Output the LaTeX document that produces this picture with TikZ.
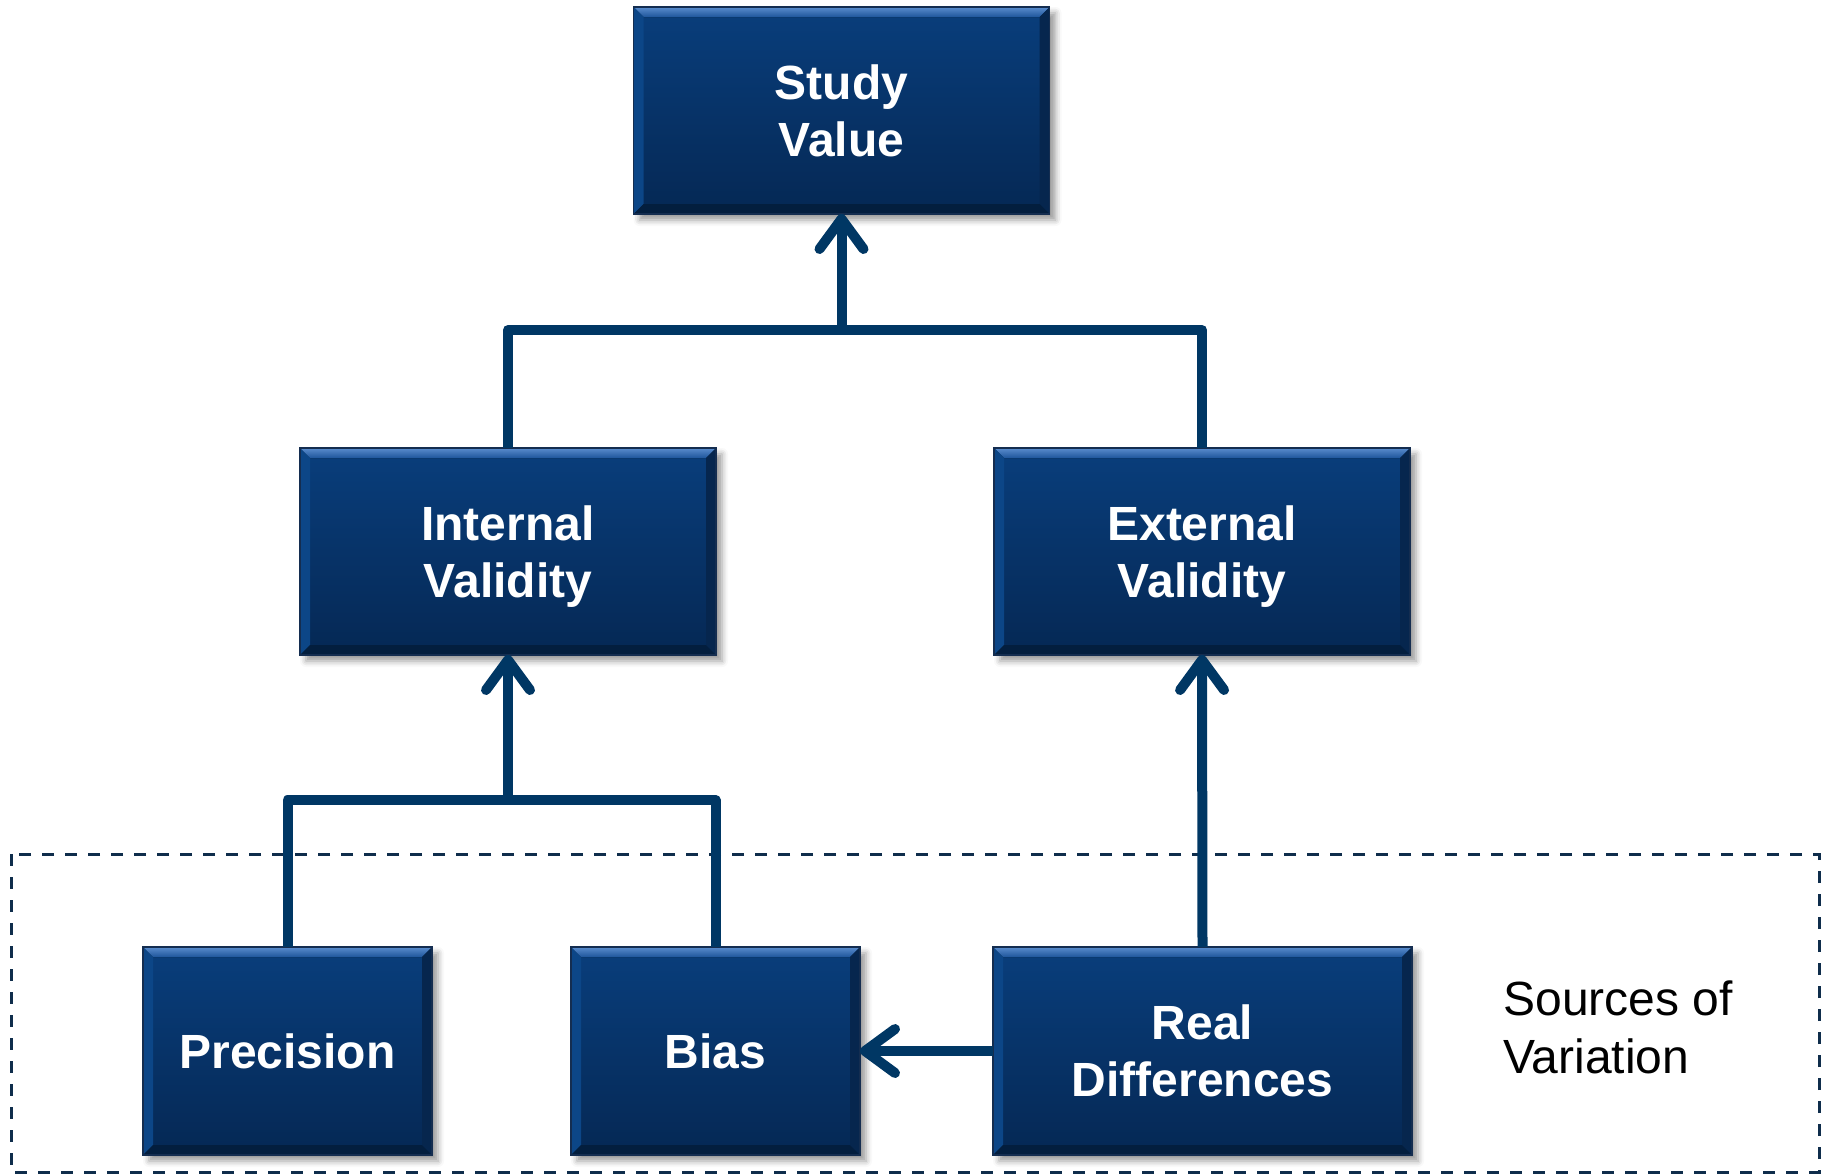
\documentclass[tikz,border=0pt]{standalone}
\usepackage{fontspec}
\setmainfont{Liberation Sans}
\usetikzlibrary{arrows.meta,shadows.blur}

\definecolor{boxtop}{RGB}{9,62,124}
\definecolor{boxbot}{RGB}{5,40,84}
\definecolor{bevtopA}{RGB}{90,140,205}
\definecolor{bevtopB}{RGB}{30,85,155}
\definecolor{bevleft}{RGB}{12,70,135}
\definecolor{bevright}{RGB}{6,38,78}
\definecolor{bevbot}{RGB}{3,30,62}
\definecolor{edgecol}{RGB}{20,45,80}
\definecolor{linkcol}{RGB}{0,55,100}
\definecolor{dashcol}{RGB}{15,45,75}

\tikzset{
  navybox/.style={
    draw=edgecol, line width=0.6pt,
    top color=boxtop, bottom color=boxbot,
    inner sep=0pt, outer sep=0pt,
    text=white, align=center,
    font=\fontsize{24}{28.5}\selectfont\bfseries,
    blur shadow={shadow xshift=3pt, shadow yshift=-3pt, shadow blur radius=3pt, shadow opacity=40},
    path picture={
      \coordinate (bNW) at (path picture bounding box.north west);
      \coordinate (bNE) at (path picture bounding box.north east);
      \coordinate (bSW) at (path picture bounding box.south west);
      \coordinate (bSE) at (path picture bounding box.south east);
      \fill[top color=bevtopA, bottom color=bevtopB]
        (bNW) -- (bNE) -- ([xshift=-5pt,yshift=-5pt]bNE) -- ([xshift=5pt,yshift=-5pt]bNW) -- cycle;
      \fill[bevleft]
        (bNW) -- ([xshift=5pt,yshift=-5pt]bNW) -- ([xshift=5pt,yshift=5pt]bSW) -- (bSW) -- cycle;
      \fill[bevright]
        (bNE) -- ([xshift=-5pt,yshift=-5pt]bNE) -- ([xshift=-5pt,yshift=5pt]bSE) -- (bSE) -- cycle;
      \fill[bevbot]
        (bSW) -- ([xshift=5pt,yshift=5pt]bSW) -- ([xshift=-5pt,yshift=5pt]bSE) -- (bSE) -- cycle;
    }
  },
  widebox/.style={navybox, minimum width=208pt, minimum height=103.5pt},
  smallbox/.style={navybox, minimum width=144.5pt, minimum height=104pt},
  link/.style={draw=linkcol, line width=5pt, line join=round},
  linkarrow/.style={link, -{Straight Barb[length=15pt,width=22pt,round]}},
  srcframe/.style={draw=dashcol, line width=1.5pt, dash pattern=on 6pt off 5.5pt},
  note/.style={font=\fontsize{24}{29}\selectfont, align=left, anchor=base west, inner sep=0pt}
}

\begin{document}
\begin{tikzpicture}[x=0.5pt,y=-0.5pt]
  \useasboundingbox (0,0) rectangle (1825,1174);

  % frame around the sources of variation
  \draw[srcframe] (11,854) rectangle (1819,1172);
  % the base anchor of a two-line node sits on its last line
  \node[note] (srcnote) at (1503,1073) {Sources of\\Variation};

  % boxes
  \node[widebox] (sv) at (841.5,110.5) {Study\\Value};
  \node[widebox] (iv) at (508,551.5) {Internal\\Validit\smash{y}};
  \node[widebox] (ev) at (1202,551.5) {External\\Validit\smash{y}};
  \node[smallbox] (prec) at (287.5,1051) {Precision};
  \node[smallbox] (bias) at (715.5,1051) {Bias};
  \node[navybox, minimum width=209.5pt, minimum height=104pt] (rd) at (1202.5,1051) {Real\\Differences};

  % junction points of the connectors
  \coordinate (jtop) at (841.5,330);
  \coordinate (jlow) at (508,800);

  % connectors
  \draw[link] (iv.north) -- (iv.north |- jtop) -- (ev.north |- jtop) -- (ev.north);
  \draw[linkarrow] (jtop) -- (sv.south);
  \draw[link] (prec.north) -- (prec.north |- jlow) -- (bias.north |- jlow) -- (bias.north);
  \draw[linkarrow] (jlow) -- (iv.south);
  \draw[linkarrow] (rd.north) -- (ev.south);
  \draw[linkarrow] (rd.west) -- (bias.east);
\end{tikzpicture}
\end{document}
